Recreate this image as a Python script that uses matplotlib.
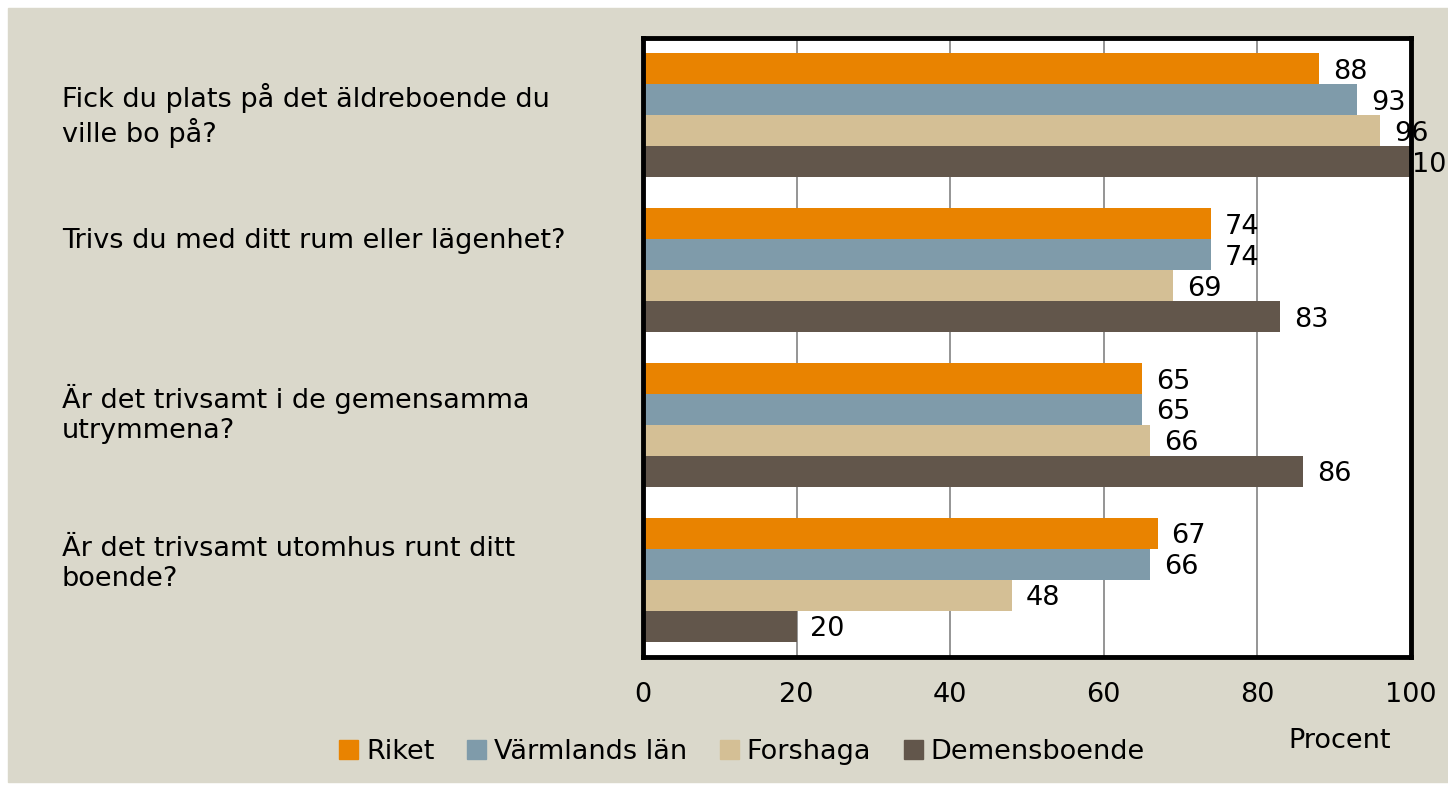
import matplotlib.pyplot as plt
from matplotlib.patches import Rectangle, Patch
from matplotlib.transforms import blended_transform_factory
import numpy as np

# frågor och värden (procent)
fragor = ['Fick du plats på det äldreboende du\nville bo på?',
          'Trivs du med ditt rum eller lägenhet?',
          'Är det trivsamt i de gemensamma\nutrymmena?',
          'Är det trivsamt utomhus runt ditt\nboende?']
serier = ['Riket', 'Värmlands län', 'Forshaga', 'Demensboende']
riket = [88, 74, 65, 67]
varmland = [93, 74, 65, 66]
forshaga = [96, 69, 66, 48]
demens = [100, 83, 86, 20]
xticks = [0, 20, 40, 60, 80, 100]

farger = ['#E98300', '#7F9BAA', '#D4BF95', '#62564B']
bakgrund = '#DAD8CB'

plt.rcParams['font.family'] = ['DejaVu Sans']
fs = 19.5

fig = plt.figure(figsize=(14.48, 7.88), dpi=100)
fig.patches.append(Rectangle((8/1448, 6/788), 1 - 8/1448, 1 - 14/788,
                             transform=fig.transFigure, color=bakgrund, zorder=-10))

ax = fig.add_axes([643/1448, 131/788, 768/1448, 619/788])
ax.set_facecolor('white')

y = np.arange(len(fragor))
h = 0.2
offs = [-0.3, -0.1, 0.1, 0.3]
for vals, off, col in zip([riket, varmland, forshaga, demens], offs, farger):
    bars = ax.barh(y + off, vals, height=h, color=col, zorder=2)
    for b, v in zip(bars, vals):
        # etiketten flyttas in om den hamnar utanför ramen (som i Excel)
        ax.text(min(v + 1.8, 100.1), b.get_y() + h/2 + 0.02, str(v), va='center', ha='left',
                fontsize=fs, clip_on=False, zorder=3)

ax.set_xlim(0, 100)
ax.set_ylim(3.5, -0.5)
ax.set_xticks(xticks)
ax.set_xticklabels([str(t) for t in xticks], fontsize=fs)
ax.tick_params(axis='x', length=0, pad=18)
ax.set_yticks([])
ax.grid(axis='x', color='#8C8C8C', linewidth=1.3, zorder=1)
for s in ax.spines.values():
    s.set_linewidth(3.5)
    s.set_color('black')

# frågetexter till vänster
trans = blended_transform_factory(fig.transFigure, ax.transData)
label_dy = [0.0, -0.19, -0.07, -0.1]
for i, (f, dy) in enumerate(zip(fragor, label_dy)):
    ax.text(62/1448, i + dy, f, transform=trans,
            ha='left', va='center', fontsize=fs, linespacing=1.2)

handles = [Patch(color=c) for c in farger]
fig.legend(handles, serier, loc='center', bbox_to_anchor=(742/1448, 1 - 752/788),
           ncol=4, frameon=False, fontsize=fs, handlelength=0.7, handleheight=0.7,
           handletextpad=0.3, columnspacing=1.2)
fig.text(1340/1448, 1 - 741/788, 'Procent', ha='center', va='center', fontsize=fs)

fig.savefig('out.png', dpi=100)
